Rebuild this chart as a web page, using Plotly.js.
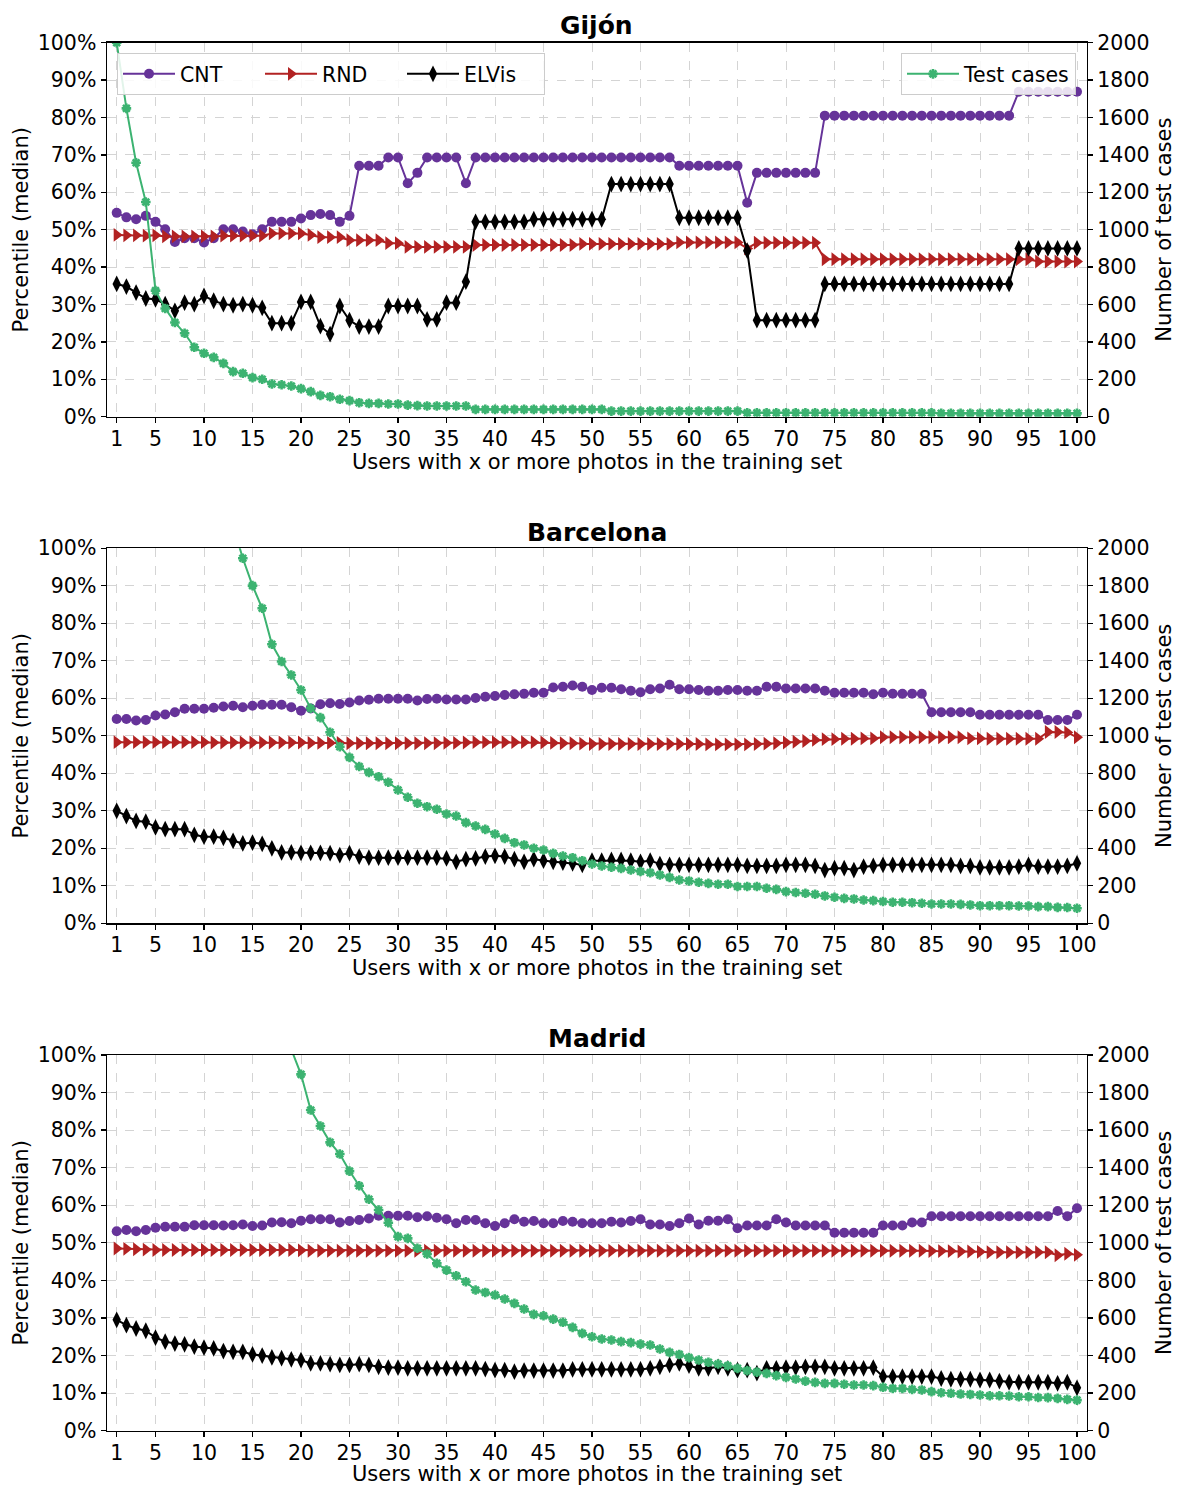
<!DOCTYPE html>
<html>
<head>
<meta charset="utf-8">
<script src="https://cdn.plot.ly/plotly-3.0.1.min.js"></script>
<style>html,body{margin:0;padding:0;background:#fff;}</style>
</head>
<body>
<div id="chart" style="width:1177px;height:1486px;"></div>
<script>
// ---------- DATA ----------
const xUsers = Array.from({length: 100}, (_, i) => i + 1);
const xTickVals = [1, 5, 10, 15, 20, 25, 30, 35, 40, 45, 50, 55, 60, 65, 70, 75, 80, 85, 90, 95, 100];
const cityNames = ["Gijón", "Barcelona", "Madrid"];
const seriesNames = ["CNT", "RND", "ELVis", "Test cases"];
const xTitle = "Users with x or more photos in the training set";
const yLeftTitle = "Percentile (median)";
const yRightTitle = "Number of test cases";

const gijonCNT = [54.5,53.3,52.8,53.7,52.1,50.1,46.7,47.7,47.7,46.6,
 47.7,50.1,50.1,49.5,48.8,50.1,52.1,52.1,52.1,53.0,
 53.9,54.2,53.9,52.1,53.7,67.1,67.1,67.1,69.3,69.3,
 62.4,65.2,69.3,69.3,69.3,69.3,62.4,69.3,69.3,69.3,
 69.3,69.3,69.3,69.3,69.3,69.3,69.3,69.3,69.3,69.3,
 69.3,69.3,69.3,69.3,69.3,69.3,69.3,69.3,67.1,67.1,
 67.1,67.1,67.1,67.1,67.1,57.2,65.2,65.2,65.2,65.2,
 65.2,65.2,65.2,80.5,80.5,80.5,80.5,80.5,80.5,80.5,
 80.5,80.5,80.5,80.5,80.5,80.5,80.5,80.5,80.5,80.5,
 80.5,80.5,80.5,86.9,86.9,86.9,86.9,86.9,86.9,86.9];
const gijonRND = [48.6,48.5,48.5,48.4,48.5,48.2,48.2,48.2,48.2,48.2,
 48.2,48.4,48.4,48.4,48.4,48.4,49.0,49.0,49.0,49.0,
 48.6,48.0,48.0,48.0,47.2,47.2,47.2,47.2,46.4,46.4,
 45.4,45.4,45.4,45.4,45.4,45.4,45.4,45.9,45.9,45.9,
 45.9,45.9,45.9,45.9,45.9,45.9,45.9,45.9,46.2,46.2,
 46.2,46.2,46.2,46.2,46.2,46.2,46.2,46.2,46.6,46.6,
 46.6,46.6,46.6,46.6,46.6,45.0,46.5,46.5,46.5,46.5,
 46.5,46.5,46.5,42.1,42.1,42.1,42.1,42.1,42.1,42.1,
 42.1,42.1,42.1,42.1,42.1,42.1,42.1,42.1,42.1,42.1,
 42.1,42.1,42.1,42.1,42.1,41.5,41.5,41.5,41.5,41.5];
const gijonELVis = [35.5,34.8,33.2,31.6,31.4,30.1,28.3,30.5,30.1,32.3,
 31.0,30.1,29.8,30.1,29.8,29.1,25.0,25.0,25.0,30.7,
 30.7,24.2,22.1,29.6,25.8,24.1,24.1,24.1,29.6,29.6,
 29.6,29.6,26.0,26.0,30.5,30.5,36.1,52.1,52.1,52.1,
 52.1,52.1,52.1,52.8,52.8,52.8,52.8,52.8,52.8,52.8,
 52.8,62.2,62.2,62.2,62.2,62.2,62.2,62.2,53.2,53.2,
 53.2,53.2,53.2,53.2,53.2,44.4,25.8,25.8,25.8,25.8,
 25.8,25.8,25.8,35.5,35.5,35.5,35.5,35.5,35.5,35.5,
 35.5,35.5,35.5,35.5,35.5,35.5,35.5,35.5,35.5,35.5,
 35.5,35.5,35.5,45.0,45.0,45.0,45.0,45.0,45.0,45.0];
const gijonTests = [2000,1649,1358,1148,674,579,504,446,371,339,
 317,285,241,232,209,200,175,171,164,150,
 134,114,107,93,86,75,71,71,68,68,
 62,59,57,57,57,57,57,39,39,39,
 39,39,39,39,39,39,39,39,39,39,
 39,30,30,30,30,30,30,30,30,30,
 30,30,30,30,30,21,21,21,21,21,
 21,21,21,21,21,21,21,21,21,21,
 21,21,21,21,21,18,18,18,18,18,
 18,18,18,18,18,18,18,18,18,18];

const barcelonaCNT = [54.5,54.5,54.1,54.2,55.4,55.7,56.3,57.2,57.2,57.2,
 57.5,57.8,58.0,57.6,58.0,58.3,58.3,58.3,57.6,56.7,
 57.3,58.4,58.7,58.5,58.9,59.4,59.6,59.9,59.9,59.9,
 59.9,59.4,59.8,59.9,59.7,59.7,59.7,60.1,60.4,60.6,
 60.9,61.1,61.2,61.5,61.5,62.9,63.1,63.4,63.1,62.2,
 62.8,62.8,62.4,62.0,61.6,62.4,62.6,63.6,62.4,62.4,
 62.2,62.0,62.0,62.2,62.2,62.0,62.0,63.1,63.1,62.6,
 62.6,62.6,62.6,62.0,61.5,61.5,61.5,61.5,61.1,61.5,
 61.2,61.2,61.2,61.2,56.3,56.3,56.3,56.3,56.3,55.6,
 55.6,55.6,55.6,55.6,55.6,55.6,54.2,54.2,54.2,55.6];
const barcelonaRND = [48.3,48.3,48.3,48.3,48.3,48.3,48.3,48.3,48.3,48.3,
 48.2,48.2,48.2,48.2,48.2,48.2,48.2,48.2,48.2,48.2,
 48.1,48.1,48.1,48.1,48.0,48.0,48.0,48.0,48.0,48.0,
 48.0,48.0,48.0,48.0,48.1,48.1,48.2,48.3,48.3,48.3,
 48.3,48.3,48.3,48.3,48.2,48.1,48.0,48.0,47.9,47.8,
 47.8,47.8,47.8,47.8,47.8,47.8,47.8,47.8,47.8,47.8,
 47.8,47.7,47.7,47.7,47.7,47.7,47.8,47.9,48.0,48.2,
 48.4,48.6,48.9,49.1,49.1,49.2,49.2,49.3,49.3,49.6,
 49.6,49.6,49.6,49.6,49.6,49.6,49.6,49.6,49.3,49.3,
 49.2,49.2,49.2,49.2,49.2,49.2,51.0,51.0,50.9,49.6];
const barcelonaELVis = [30.0,28.6,27.3,27.1,25.6,25.1,25.1,25.1,23.6,23.1,
 23.1,22.8,22.0,21.3,21.5,21.2,20.0,18.9,18.9,18.8,
 18.8,18.8,18.7,18.2,18.7,17.8,17.5,17.5,17.5,17.5,
 17.5,17.5,17.5,17.5,17.3,16.4,17.1,17.3,17.8,18.0,
 17.8,17.1,16.4,17.1,16.7,16.4,16.2,16.0,15.6,16.7,
 16.7,16.9,16.9,16.7,16.4,16.7,15.8,15.6,15.6,15.6,
 15.6,15.6,15.6,15.6,15.6,15.3,15.3,15.3,15.3,15.6,
 15.6,15.6,15.3,14.2,14.7,14.7,14.2,15.1,15.3,15.6,
 15.6,15.6,15.6,15.6,15.6,15.6,15.6,15.3,15.3,14.9,
 14.9,14.9,14.9,15.1,15.6,15.1,15.1,15.1,15.3,16.0];
const barcelonaTests = [7200,5600,4700,4000,3550,3200,2950,2750,2580,2440,
 2320,2210,2120,1947,1801,1680,1488,1396,1324,1244,
 1147,1097,1019,942,885,836,805,782,752,711,
 672,640,622,608,583,572,537,519,501,476,
 453,430,418,400,391,373,359,350,334,316,
 306,299,293,284,276,270,258,245,231,226,
 219,213,208,208,196,196,196,187,181,169,
 164,160,155,146,139,133,130,124,121,116,
 112,112,110,107,103,103,103,101,98,94,
 94,94,94,92,92,89,89,85,84,80];

const madridCNT = [53.1,53.4,53.1,53.4,54.0,54.3,54.3,54.3,54.7,54.7,
 54.7,54.6,54.7,54.9,54.5,54.6,55.4,55.5,55.2,55.9,
 56.3,56.3,56.3,55.4,55.8,56.1,56.5,57.2,57.2,57.2,
 57.2,56.8,57.1,56.7,56.3,55.2,56.1,56.1,55.2,54.5,
 55.2,56.3,55.6,55.8,55.2,55.2,55.8,55.6,55.2,55.2,
 55.2,55.6,55.4,55.8,56.3,54.9,54.9,54.5,55.2,56.5,
 54.9,55.9,55.9,56.3,53.9,54.6,54.6,54.6,56.3,55.4,
 54.6,54.6,54.6,54.6,52.7,52.7,52.7,52.7,52.7,54.6,
 54.6,54.6,55.4,55.4,57.1,57.1,57.1,57.1,57.1,57.1,
 57.1,57.1,57.1,57.1,57.1,57.1,57.1,58.5,57.1,59.2];
const madridRND = [48.5,48.4,48.3,48.2,48.1,48.1,48.1,48.1,48.1,48.1,
 48.1,48.1,48.1,48.1,48.1,48.1,48.1,48.1,48.1,48.0,
 47.9,47.9,47.9,47.9,47.9,47.9,47.9,47.9,47.9,47.9,
 47.9,47.9,47.9,47.9,47.9,47.9,47.9,47.9,47.9,47.9,
 47.9,47.9,47.9,47.9,47.9,47.9,47.9,47.9,47.9,47.9,
 47.9,47.9,47.9,47.9,47.9,47.9,47.9,47.9,47.9,47.9,
 47.9,47.9,47.9,47.9,47.9,47.9,47.9,47.9,47.9,47.9,
 47.9,47.9,47.9,47.9,47.9,47.9,47.9,47.9,47.9,47.9,
 47.9,47.9,47.9,47.9,47.8,47.8,47.8,47.7,47.7,47.6,
 47.5,47.5,47.5,47.5,47.5,47.5,47.5,46.7,47.1,46.8];
const madridELVis = [29.5,28.1,27.2,26.6,24.8,23.7,23.2,23.0,22.4,22.1,
 21.9,21.2,21.0,21.0,20.3,20.0,19.5,19.3,19.0,18.8,
 17.9,17.9,17.7,17.5,17.5,17.7,17.5,17.0,16.8,16.8,
 16.6,16.6,16.6,16.6,16.6,16.6,16.6,16.6,16.4,16.1,
 16.1,15.7,16.0,16.0,16.0,16.0,16.0,16.3,16.3,16.3,
 16.3,16.3,16.3,16.3,16.3,16.6,17.0,17.5,17.9,17.3,
 16.6,16.6,17.0,16.6,16.1,16.1,15.3,16.6,16.6,16.8,
 16.8,17.0,17.0,17.0,16.6,16.6,16.6,16.6,16.8,14.4,
 14.4,14.4,14.4,14.4,14.4,13.9,13.7,13.7,13.7,13.5,
 13.5,13.2,12.9,12.9,12.9,12.9,12.9,12.6,12.9,11.4];
const madridTests = [9500,7600,6400,5500,4800,4300,3900,3550,3250,3000,
 2800,2630,2490,2370,2270,2190,2120,2070,2030,1897,
 1707,1622,1535,1473,1382,1304,1232,1175,1107,1033,
 1024,971,941,891,855,825,793,749,736,722,
 701,678,648,619,612,594,577,550,518,500,
 488,483,474,469,461,456,435,417,406,389,
 376,364,355,346,332,320,312,305,293,284,
 275,264,257,252,252,247,243,243,240,231,
 225,225,220,217,208,202,199,195,193,190,
 186,186,185,181,181,177,176,172,167,163];

const cityData = [
  [gijonCNT, gijonRND, gijonELVis, gijonTests],
  [barcelonaCNT, barcelonaRND, barcelonaELVis, barcelonaTests],
  [madridCNT, madridRND, madridELVis, madridTests]
];

// ---------- STYLE ----------
const FONT = "DejaVu Sans, Verdana, sans-serif";
const FS = 20.5;
const FT = 21;
const colors = ["#663399", "#b22222", "#000000", "#3cb371"];
const markers = [
  {symbol: "circle", size: 10},
  {symbol: "triangle-right", size: 12},
  {symbol: "diamond-tall", size: 12},
  {symbol: "asterisk-open", size: 8}
];

const W = 1177, H = 1486;
const xDom = [107 / W, 1086.7 / W];
const plotTops = [42.7, 548.3, 1055];
const plotBottoms = [416.7, 923.3, 1430.7];
const titleY = [26, 532, 1038];
const xTitleY = [462, 968, 1474];

const traces = [];
const layout = {
  width: W, height: H,
  margin: {l: 0, r: 0, t: 0, b: 0},
  paper_bgcolor: "#ffffff",
  plot_bgcolor: "#ffffff",
  font: {family: FONT, size: FS, color: "#000"},
  showlegend: true,
  annotations: [],
  legend: {
    x: 117 / W, y: 1 - 53 / H, xanchor: "left", yanchor: "top",
    orientation: "h", bgcolor: "rgba(255,255,255,0.85)",
    bordercolor: "#cccccc", borderwidth: 1,
    font: {family: FONT, size: FS, color: "#000"},
    entrywidth: 75, itemwidth: 52, tracegroupgap: 0
  },
  legend2: {
    x: 1076 / W, y: 1 - 53 / H, xanchor: "right", yanchor: "top",
    orientation: "h", bgcolor: "rgba(255,255,255,0.85)",
    bordercolor: "#cccccc", borderwidth: 1,
    font: {family: FONT, size: FS, color: "#000"},
    itemwidth: 52
  }
};

for (let c = 0; c < 3; c++) {
  const xName = c === 0 ? "x" : "x" + (c + 1);
  const yL = c === 0 ? "y" : "y" + (2 * c + 1);
  const yR = "y" + (2 * c + 2);
  const xKey = c === 0 ? "xaxis" : "xaxis" + (c + 1);
  const yLKey = c === 0 ? "yaxis" : "yaxis" + (2 * c + 1);
  const yRKey = "yaxis" + (2 * c + 2);
  const yDom = [1 - plotBottoms[c] / H, 1 - plotTops[c] / H];

  layout[xKey] = {
    domain: xDom, anchor: yL, range: [0, 101],
    tickmode: "array", tickvals: xTickVals, ticktext: xTickVals.map(String),
    ticks: "outside", ticklen: 5, tickwidth: 1.3, tickcolor: "#000",
    ticklabelstandoff: -2,
    showline: true, linecolor: "#000", linewidth: 1.5, mirror: true,
    showgrid: true, gridcolor: "#d4d4d4", griddash: "dash", gridwidth: 1,
    zeroline: false, tickfont: {family: FONT, size: FS, color: "#000"}
  };
  layout[yLKey] = {
    domain: yDom, anchor: xName, range: [0, 100],
    tickmode: "linear", tick0: 0, dtick: 10, ticksuffix: "%",
    ticks: "outside", ticklen: 5, tickwidth: 1.3, tickcolor: "#000",
    showline: true, linecolor: "#000", linewidth: 1.5,
    showgrid: true, gridcolor: "#d4d4d4", griddash: "dash", gridwidth: 1,
    zeroline: false, tickfont: {family: FONT, size: FS, color: "#000"},
    title: {text: yLeftTitle, font: {family: FONT, size: FT, color: "#000"}, standoff: 3}
  };
  layout[yRKey] = {
    overlaying: yL, anchor: xName, side: "right", range: [0, 2000],
    tickmode: "linear", tick0: 0, dtick: 200,
    ticks: "outside", ticklen: 5, tickwidth: 1.3, tickcolor: "#000",
    showline: true, linecolor: "#000", linewidth: 1.5,
    showgrid: false, zeroline: false,
    tickfont: {family: FONT, size: FS, color: "#000"},
    title: {text: yRightTitle, font: {family: FONT, size: FT, color: "#000"}, standoff: 8}
  };

  layout.annotations.push({
    text: "<b>" + cityNames[c] + "</b>", xref: "paper", yref: "paper",
    x: (xDom[0] + xDom[1]) / 2, y: 1 - titleY[c] / H,
    xanchor: "center", yanchor: "middle", showarrow: false,
    font: {family: FONT, size: 25, color: "#000"}
  });
  layout.annotations.push({
    text: xTitle, xref: "paper", yref: "paper",
    x: (xDom[0] + xDom[1]) / 2, y: 1 - xTitleY[c] / H,
    xanchor: "center", yanchor: "middle", showarrow: false,
    font: {family: FONT, size: FT, color: "#000"}
  });

  for (let s = 0; s < 4; s++) {
    const isTest = s === 3;
    const mk = {symbol: markers[s].symbol, size: markers[s].size, color: colors[s]};
    if (isTest) mk.line = {color: colors[s], width: 2.6};
    traces.push({
      type: "scatter", mode: "lines+markers",
      x: xUsers, y: cityData[c][s],
      xaxis: xName, yaxis: isTest ? yR : yL,
      name: seriesNames[s],
      line: {color: colors[s], width: 2},
      marker: mk,
      showlegend: c === 0,
      legend: isTest ? "legend2" : "legend",
      cliponaxis: true
    });
  }
}

Plotly.newPlot("chart", traces, layout, {staticPlot: true, displayModeBar: false});
</script>
</body>
</html>
